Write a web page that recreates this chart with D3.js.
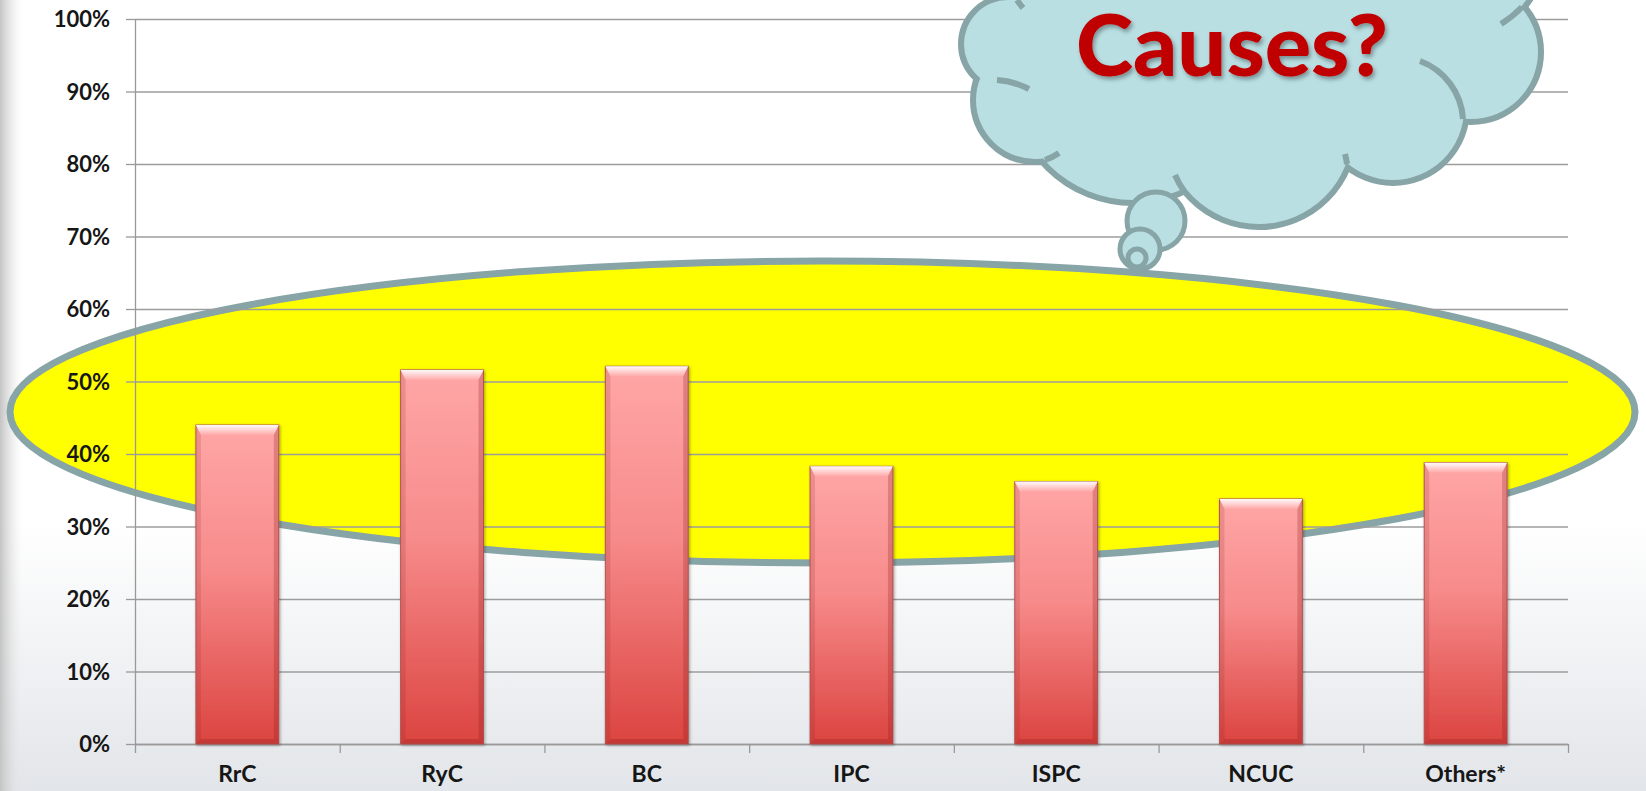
<!DOCTYPE html>
<html>
<head>
<meta charset="utf-8">
<script src="https://cdn.jsdelivr.net/npm/d3@7"></script>
<style>
body { margin: 0; overflow: hidden; background: #fff; }
svg { display: block; }
.axis text { font-family: Lato, "Open Sans", sans-serif; font-weight: 700; fill: #161616; }
</style>
</head>
<body>
<svg id="chart" width="1646" height="791"></svg>
<script>
var categories = ["RrC", "RyC", "BC", "IPC", "ISPC", "NCUC", "Others*"];
var shares = [0.44, 0.516, 0.521, 0.383, 0.362, 0.338, 0.388];
var yTicks = [0, 0.1, 0.2, 0.3, 0.4, 0.5, 0.6, 0.7, 0.8, 0.9, 1];
var calloutText = "Causes?";

// cloud lobes (decoration), lobe 0 and 7 sit above the page edge
var lobes = [
    {x: 1090, y: -60, r: 94},
    {x: 1008, y: 44, r: 44},
    {x: 1035, y: 100, r: 59},
    {x: 1133, y: 82, r: 118},
    {x: 1259, y: 131, r: 93},
    {x: 1393, y: 109, r: 71},
    {x: 1471, y: 52, r: 67},
    {x: 1440, y: -60, r: 105}
];
// little inner arcs of the cloud: start, end, radius, sweep
var tails = [
    {a: [1017, 0], b: [1023, 8], r: 94, sweep: 0},
    {a: [997, 80], b: [1029, 89], r: 80, sweep: 1},
    {a: [1045, 160], b: [1059, 153], r: 59, sweep: 0},
    {a: [1175, 175], b: [1184, 191], r: 93, sweep: 0},
    {a: [1345, 154], b: [1347, 164], r: 93, sweep: 1},
    {a: [1420, 61], b: [1463, 119], r: 66, sweep: 1},
    {a: [1501, 24], b: [1522, 7], r: 105, sweep: 0}
];
var bubbles = [
    {x: 1156, y: 221, r: 29},
    {x: 1140, y: 249, r: 20},
    {x: 1137, y: 258, r: 9}
];

var W = 1646, H = 791,
    margin = {top: 19, right: 78, bottom: 47, left: 135},
    width = W - margin.left - margin.right,
    height = H - margin.top - margin.bottom;

var svg = d3.select("#chart");
var defs = svg.append("defs");

// backdrop gradients
var bgGrad = defs.append("linearGradient").attr("id", "bgGrad")
    .attr("x1", 0).attr("y1", 0).attr("x2", 0).attr("y2", 1);
bgGrad.append("stop").attr("offset", "0%").attr("stop-color", "#ffffff");
bgGrad.append("stop").attr("offset", "66%").attr("stop-color", "#ffffff");
bgGrad.append("stop").attr("offset", "100%").attr("stop-color", "#e2e5e9");

var edgeGrad = defs.append("linearGradient").attr("id", "edgeGrad")
    .attr("x1", 0).attr("y1", 0).attr("x2", 1).attr("y2", 0);
edgeGrad.append("stop").attr("offset", "0%").attr("stop-color", "#c4c4c4").attr("stop-opacity", 1);
edgeGrad.append("stop").attr("offset", "100%").attr("stop-color", "#e8e8e8").attr("stop-opacity", 0);

var barGrad = defs.append("linearGradient").attr("id", "barGrad")
    .attr("x1", 0).attr("y1", 0).attr("x2", 0).attr("y2", 1);
barGrad.append("stop").attr("offset", "0%").attr("stop-color", "#ffa6a6");
barGrad.append("stop").attr("offset", "45%").attr("stop-color", "#f78b8b");
barGrad.append("stop").attr("offset", "100%").attr("stop-color", "#db4440");

var bevelGrad = defs.append("linearGradient").attr("id", "bevelGrad")
    .attr("x1", 0).attr("y1", 0).attr("x2", 0).attr("y2", 1);
bevelGrad.append("stop").attr("offset", "0%").attr("stop-color", "#ffffff").attr("stop-opacity", 0.95);
bevelGrad.append("stop").attr("offset", "100%").attr("stop-color", "#ffffff").attr("stop-opacity", 0.05);

var shadow = defs.append("filter").attr("id", "barShadow")
    .attr("x", "-10%").attr("y", "-10%").attr("width", "130%").attr("height", "130%");
shadow.append("feDropShadow").attr("dx", 1).attr("dy", 1).attr("stdDeviation", 1.5)
    .attr("flood-color", "#000").attr("flood-opacity", 0.35);

var textShadow = defs.append("filter").attr("id", "textShadow")
    .attr("x", "-10%").attr("y", "-20%").attr("width", "130%").attr("height", "150%");
textShadow.append("feDropShadow").attr("dx", 2).attr("dy", 3).attr("stdDeviation", 2)
    .attr("flood-color", "#000").attr("flood-opacity", 0.35);

svg.append("rect").attr("width", W).attr("height", H).attr("fill", "url(#bgGrad)");
svg.append("rect").attr("width", 22).attr("height", H).attr("fill", "url(#edgeGrad)");

// scales
var x = d3.scaleBand()
    .domain(categories)
    .range([0, width])
    .paddingInner(0.595)
    .paddingOuter(0.2975);

var edges = d3.scaleLinear().domain([0, categories.length]).range([0, width]);

var y = d3.scaleLinear().domain([0, 1]).range([height, 0]);

// the yellow highlight ellipse behind the chart
svg.append("ellipse")
    .attr("cx", 822.5)
    .attr("cy", 412)
    .attr("rx", 812.5)
    .attr("ry", 151)
    .attr("fill", "#ffff00")
    .attr("stroke", "#87a4a6")
    .attr("stroke-width", 7);

var g = svg.append("g").attr("transform", "translate(" + margin.left + "," + margin.top + ")");

// gridlines
g.append("g")
    .call(d3.axisLeft(y).tickValues(yTicks).tickSize(-width).tickFormat(""))
    .call(function (s) {
        s.select(".domain").remove();
        s.selectAll("line").attr("stroke", "#9c9c9c").attr("stroke-width", 1.3);
    });

// y axis with labels
g.append("g")
    .attr("class", "axis")
    .call(d3.axisLeft(y).tickValues(yTicks).tickSize(9).tickSizeOuter(0).tickPadding(16)
        .tickFormat(d3.format(".0%")))
    .call(function (s) {
        s.select(".domain").attr("stroke", "#999").attr("stroke-width", 1.3);
        s.selectAll("line").attr("stroke", "#999").attr("stroke-width", 1.3);
        s.selectAll("text").style("font-size", "22px").attr("dy", "0.36em");
    });

// x axis: boundary ticks
g.append("g")
    .attr("transform", "translate(0," + height + ")")
    .call(d3.axisBottom(edges).ticks(categories.length).tickSize(9).tickSizeOuter(0).tickFormat(""))
    .call(function (s) {
        s.select(".domain").attr("stroke", "#999").attr("stroke-width", 1.3);
        s.selectAll("line").attr("stroke", "#999").attr("stroke-width", 1.3);
    });

// x axis labels
g.append("g")
    .attr("class", "axis")
    .attr("transform", "translate(0," + height + ")")
    .call(d3.axisBottom(x).tickSize(0).tickPadding(22))
    .call(function (s) {
        s.select(".domain").remove();
        s.selectAll("text").style("font-size", "23px");
    });

// bars
var bar = g.selectAll(".bar")
    .data(categories.map(function (c, i) { return {name: c, value: shares[i]}; }))
    .enter().append("g")
    .attr("class", "bar");

bar.append("rect")
    .attr("x", function (d) { return x(d.name); })
    .attr("y", function (d) { return y(d.value); })
    .attr("width", x.bandwidth())
    .attr("height", function (d) { return height - y(d.value); })
    .attr("fill", "url(#barGrad)")
    .attr("stroke", "#b55a5a")
    .attr("stroke-width", 1)
    .attr("filter", "url(#barShadow)");

var bt = 10, bs = 5, bb = 5;

function pts(a) {
    return a.map(function (p) { return p.join(","); }).join(" ");
}

bar.append("polygon")
    .attr("points", function (d) {
        var x0 = x(d.name), x1 = x0 + x.bandwidth(), y0 = y(d.value);
        return pts([[x0, y0], [x1, y0], [x1 - bs, y0 + bt], [x0 + bs, y0 + bt]]);
    })
    .attr("fill", "url(#bevelGrad)");

bar.append("polygon")
    .attr("points", function (d) {
        var x0 = x(d.name), y0 = y(d.value);
        return pts([[x0, y0], [x0 + bs, y0 + bt], [x0 + bs, height - bb], [x0, height]]);
    })
    .attr("fill", "#8a1c1c").attr("fill-opacity", 0.16);

bar.append("polygon")
    .attr("points", function (d) {
        var x1 = x(d.name) + x.bandwidth(), y0 = y(d.value);
        return pts([[x1, y0], [x1 - bs, y0 + bt], [x1 - bs, height - bb], [x1, height]]);
    })
    .attr("fill", "#8a1c1c").attr("fill-opacity", 0.26);

bar.append("polygon")
    .attr("points", function (d) {
        var x0 = x(d.name), x1 = x0 + x.bandwidth();
        return pts([[x0, height], [x0 + bs, height - bb], [x1 - bs, height - bb], [x1, height]]);
    })
    .attr("fill", "#8a1c1c").attr("fill-opacity", 0.28);

// thought cloud: stroke every lobe wide, then cover the inner half with fills
var cloudFill = "#b9dfe3",
    cloudLine = "#87a4a6";

var cloud = svg.append("g").attr("class", "cloud");

cloud.selectAll(".lobe-line")
    .data(lobes).enter().append("circle")
    .attr("cx", function (d) { return d.x; })
    .attr("cy", function (d) { return d.y; })
    .attr("r", function (d) { return d.r; })
    .attr("fill", "none")
    .attr("stroke", cloudLine)
    .attr("stroke-width", 12);

cloud.selectAll(".lobe-fill")
    .data(lobes).enter().append("circle")
    .attr("cx", function (d) { return d.x; })
    .attr("cy", function (d) { return d.y; })
    .attr("r", function (d) { return d.r; })
    .attr("fill", cloudFill);

var core = lobes.slice(1, 7).map(function (d) { return [d.x, d.y]; });
core.push([lobes[6].x, -70], [lobes[1].x, -70]);
cloud.append("polygon").attr("points", pts(core)).attr("fill", cloudFill);

cloud.selectAll(".tail")
    .data(tails).enter().append("path")
    .attr("d", function (t) {
        return "M" + t.a.join(",") + "A" + t.r + "," + t.r + " 0 0 " + t.sweep + " " + t.b.join(",");
    })
    .attr("fill", "none")
    .attr("stroke", cloudLine)
    .attr("stroke-width", 6);

cloud.selectAll(".bubble")
    .data(bubbles).enter().append("circle")
    .attr("cx", function (d) { return d.x; })
    .attr("cy", function (d) { return d.y; })
    .attr("r", function (d) { return d.r; })
    .attr("fill", cloudFill)
    .attr("stroke", cloudLine)
    .attr("stroke-width", 5);

svg.append("text")
    .attr("x", 1232)
    .attr("y", 76)
    .attr("text-anchor", "middle")
    .attr("textLength", 312)
    .attr("lengthAdjust", "spacingAndGlyphs")
    .attr("filter", "url(#textShadow)")
    .style("font-family", "Lato, 'Open Sans', sans-serif")
    .style("font-weight", 900)
    .style("font-size", "86px")
    .style("fill", "#c00000")
    .text(calloutText);
</script>
</body>
</html>
